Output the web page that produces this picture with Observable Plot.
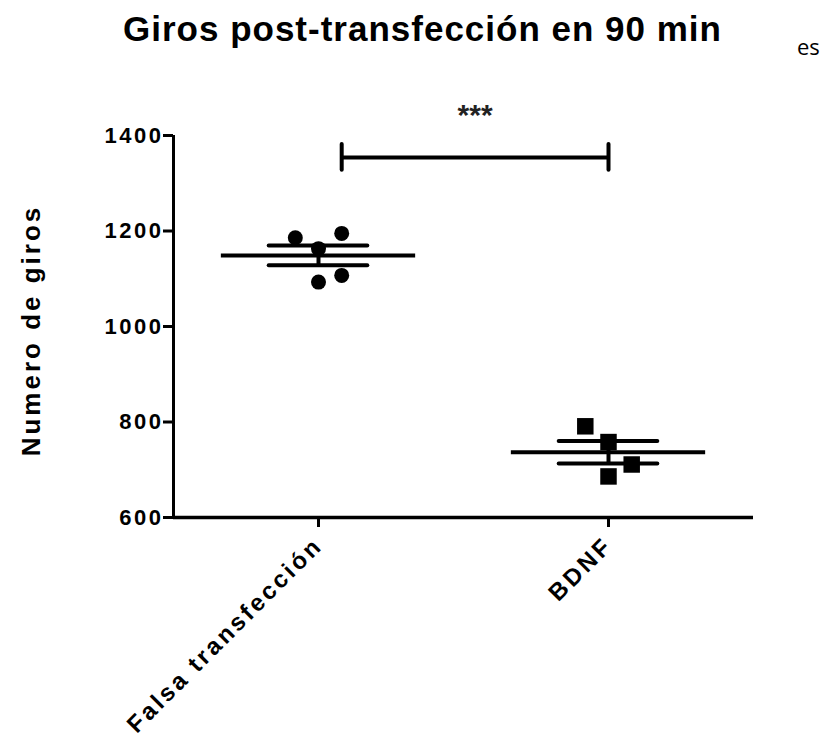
<!DOCTYPE html>
<html>
<head>
<meta charset="utf-8">
<script src="https://cdn.jsdelivr.net/npm/d3@7"></script>
<script src="https://cdn.jsdelivr.net/npm/@observablehq/plot@0.6"></script>
<style>
  html, body { margin: 0; padding: 0; background: #fff; }
  #wrap { position: relative; width: 832px; height: 737px; overflow: hidden; }
  #title { position: absolute; left: 123px; top: 11px; font: bold 35px/35px "Liberation Sans", Arial, sans-serif; letter-spacing: 1px; white-space: nowrap; color: #000; }
  #corner { position: absolute; left: 797px; top: 35px; font: 22px/22px "Open Sans", sans-serif; white-space: nowrap; color: #000; }
  #chart svg { position: absolute; left: 0; top: 0; }
  #chart [aria-label="x-axis tick label"] text { letter-spacing: 3px; }
  #chart [aria-label="y-axis tick label"] text { letter-spacing: 2.5px; }
  #chart .ylab text { letter-spacing: 3px; }
</style>
</head>
<body>
<div id="wrap">
  <div id="chart"></div>
  <div id="title">Giros post-transfección en 90 min</div>
  <div id="corner">es</div>
</div>
<script>
const groups = ["Falsa transfección", "BDNF"];
const falsaValues = [1186, 1195, 1163, 1093, 1107];
const falsaJitter = [-0.08, 0.08, 0, 0, 0.08];
const bdnfValues = [791, 758, 686, 711];
const bdnfJitter = [-0.08, 0, 0, 0.08];
const yTicks = [600, 800, 1000, 1200, 1400];
const yLabel = "Numero de giros";
const sigLabel = "***";
const sigY = 1354;
const sigFrom = 0.08;
const sigTo = 1.0;
const sigCap = 27;

const falsaPts = falsaValues.map((v, i) => ({x: 0 + falsaJitter[i], y: v}));
const bdnfPts = bdnfValues.map((v, i) => ({x: 1 + bdnfJitter[i], y: v}));

const stats = [falsaValues, bdnfValues].map((vals, i) => {
  const mean = d3.mean(vals);
  const sem = d3.deviation(vals) / Math.sqrt(vals.length);
  return {i, mean, lo: mean - sem, hi: mean + sem};
});

const font = "'Liberation Sans', Arial, sans-serif";

const plot = Plot.plot({
  width: 832,
  height: 737,
  marginLeft: 173,
  marginRight: 79,
  marginTop: 135,
  marginBottom: 220,
  style: {fontFamily: font, color: "#000", background: "transparent"},
  x: {domain: [-0.5, 1.5]},
  y: {domain: [600, 1400]},
  marks: [
    Plot.ruleY([600], {stroke: "#000", strokeWidth: 3.5}),
    Plot.ruleX([-0.5], {stroke: "#000", strokeWidth: 3}),
    Plot.axisY(yTicks, {tickSize: 10, tickPadding: 0, tickFormat: d => String(d), fontSize: 22, fontWeight: "bold", strokeWidth: 3, label: null, fill: "#000", stroke: "#000"}),
    Plot.axisX([0, 1], {tickFormat: i => groups[i], tickRotate: -45, tickSize: 10, tickPadding: 14, fontSize: 24, fontWeight: "bold", strokeWidth: 3, label: null, fill: "#000", stroke: "#000"}),
    // mean lines
    Plot.ruleY(stats, {y: "mean", x1: d => d.i - 0.335, x2: d => d.i + 0.335, stroke: "#000", strokeWidth: 4}),
    // SEM caps
    Plot.ruleY(stats, {y: "hi", x1: d => d.i - 0.17, x2: d => d.i + 0.17, stroke: "#000", strokeWidth: 4, strokeLinecap: "round"}),
    Plot.ruleY(stats, {y: "lo", x1: d => d.i - 0.17, x2: d => d.i + 0.17, stroke: "#000", strokeWidth: 4, strokeLinecap: "round"}),
    Plot.ruleX(stats, {x: "i", y1: "lo", y2: "hi", stroke: "#000", strokeWidth: 4}),
    // points
    Plot.dot(falsaPts, {x: "x", y: "y", r: 7.5, fill: "#000", symbol: "circle"}),
    Plot.dot(bdnfPts, {x: "x", y: "y", r: 9.3, fill: "#000", symbol: "square"}),
    // significance bracket
    Plot.ruleY([sigY], {x1: sigFrom, x2: sigTo, stroke: "#000", strokeWidth: 4}),
    Plot.ruleX([sigFrom, sigTo], {x: d => d, y1: sigY - sigCap, y2: sigY + sigCap, stroke: "#000", strokeWidth: 4, strokeLinecap: "round"}),
    Plot.text([sigLabel], {x: (sigFrom + sigTo) / 2, y: sigY, text: d => d, dy: -42, fontSize: 30, fontWeight: "bold", fill: "#222"}),
    // y label
    Plot.text([yLabel], {text: d => d, frameAnchor: "left", textAnchor: "middle", rotate: -90, dx: -142, dy: 4, fontSize: 26, fontWeight: "bold", fill: "#000", className: "ylab"})
  ]
});
document.getElementById("chart").appendChild(plot);
</script>
</body>
</html>
